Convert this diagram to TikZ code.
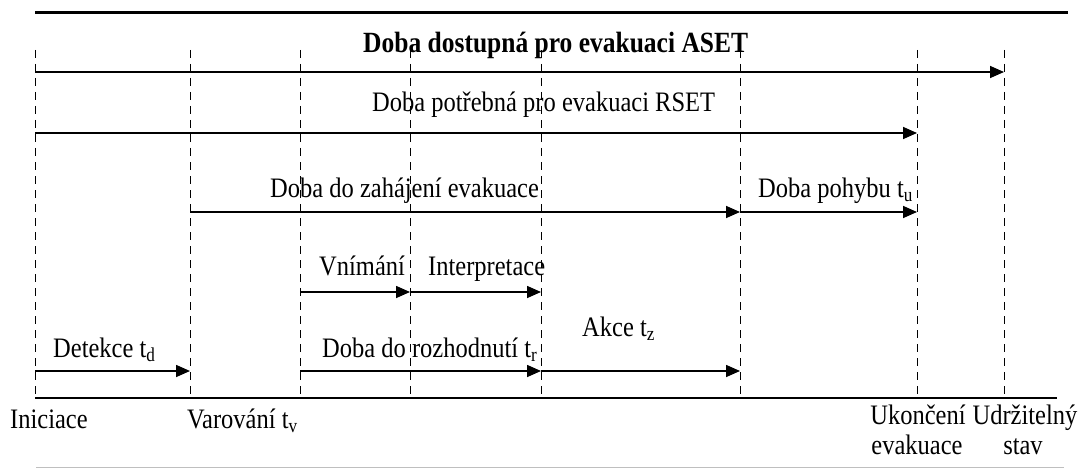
\documentclass[tikz,border=0pt]{standalone}
\usepackage{fontspec}
\setmainfont{Liberation Serif}
\usetikzlibrary{arrows.meta}
\newcommand{\stretchtxt}[1]{\scalebox{1}[1.15]{#1}}
\begin{document}
\begin{tikzpicture}[x=1pt,y=-1pt,
  lbl/.style={inner sep=0pt,anchor=base west,font=\fontsize{24.5}{28}\selectfont},
  clbl/.style={inner sep=0pt,anchor=base,font=\fontsize{24.5}{28}\selectfont},
  blbl/.style={lbl,font=\fontsize{25.5}{29}\selectfont\bfseries},
  tline/.style={dashed,dash pattern=on 8pt off 6pt,line width=1pt},
  arr/.style={line width=1.6pt,-{Triangle[length=14pt,width=12pt]}},
  plain/.style={line width=1.6pt}]
\useasboundingbox (0,0) rectangle (1084,476);
% frame lines
\coordinate (topL) at (35,13);
\coordinate (topR) at (1068,13);
\draw[line width=3pt] (topL) -- (topR);
\coordinate (botL) at (36,467);
\coordinate (botR) at (1064,467);
\draw[line width=1pt,black!25] (botL) -- (botR);
% time lines
\foreach \n/\x in {0/35,1/190,2/300,3/410,4/541,5/740,6/917,7/1004}{
  \coordinate (u\n) at (\x,50);
  \coordinate (d\n) at (\x,398);
  \draw[tline] (u\n) -- (d\n);
  \coordinate (a\n) at (\x,72);
  \coordinate (r\n) at (\x,133);
  \coordinate (z\n) at (\x,212);
  \coordinate (v\n) at (\x,292);
  \coordinate (k\n) at (\x,371);
}
% axis
\coordinate (axR) at (1057,398);
\draw[plain] (d0) -- (axR);
% arrows
\draw[arr] (a0) -- (a7);
\draw[arr] (r0) -- (r6);
\draw[arr] (z1) -- (z5);
\draw[arr] (z5) -- (z6);
\draw[arr] (v2) -- (v3);
\draw[arr] (v3) -- (v4);
\draw[arr] (k0) -- (k1);
\draw[arr] (k2) -- (k4);
\draw[arr] (k4) -- (k5);
% labels
\node[blbl] (aset) at (363,53) {\stretchtxt{Doba dostupná pro evakuaci ASET}};
\node[lbl] (rset) at (372,112) {\stretchtxt{Doba potřebná pro evakuaci RSET}};
\node[lbl] (zah) at (270,197) {\stretchtxt{Doba do zahájení evakuace}};
\node[lbl] (poh) at (758,197) {\stretchtxt{Doba pohybu t\textsubscript{u}}};
\node[lbl] (vni) at (319,275) {\stretchtxt{Vnímání}};
\node[lbl] (int) at (428,275) {\stretchtxt{Interpretace}};
\node[lbl] (akc) at (582,336) {\stretchtxt{Akce t\textsubscript{z}}};
\node[lbl] (det) at (53,357) {\stretchtxt{Detekce t\textsubscript{d}}};
\node[lbl] (roz) at (322,357) {\stretchtxt{Doba do rozhodnutí t\textsubscript{r}}};
\node[lbl] (ini) at (10,428) {\stretchtxt{Iniciace}};
\node[lbl] (var) at (187,428) {\stretchtxt{Varování t\textsubscript{v}}};
\node[clbl] (uk1) at (918,424) {\stretchtxt{Ukončení}};
\node[clbl] (uk2) at (917,454) {\stretchtxt{evakuace}};
\node[clbl] (ud1) at (1025,424) {\stretchtxt{Udržitelný}};
\node[clbl] (ud2) at (1023,454) {\stretchtxt{stav}};
\end{tikzpicture}
\end{document}
